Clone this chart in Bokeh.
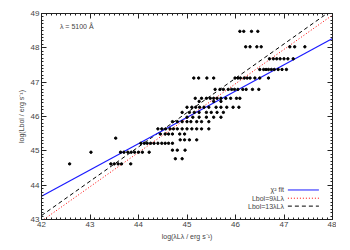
from bokeh.plotting import figure
from bokeh.models import Range1d, LinearAxis, SingleIntervalTicker, Label, CustomJSTickFormatter
from bokeh.embed import file_html
from bokeh.resources import INLINE
import math

# --- data ---
log_lamL = [
    46.09, 46.17, 46.33, 46.46,
    46.21, 46.30, 46.44, 46.53, 47.12, 47.22, 47.43,
    46.70, 46.78, 46.85, 46.92, 47.00, 47.08, 47.19,
    46.50, 46.58, 46.63, 46.68, 46.74, 46.80, 46.88, 46.96, 47.05,
    45.14, 45.24, 45.41, 45.55, 45.99, 46.05, 46.10, 46.18, 46.24, 46.30, 46.40, 46.50, 46.68,
    45.58, 45.68, 45.75, 45.85, 45.92, 45.98, 46.05, 46.15, 46.22, 46.35, 46.48,
    45.17, 45.30, 45.40, 45.48, 45.55, 45.62, 45.70, 45.80, 45.90, 46.02, 46.09,
    45.25, 45.55, 45.70,
    45.00, 45.10, 45.18, 45.26, 45.35, 45.45, 45.60, 45.70, 45.82, 45.95, 46.07,
    44.90, 45.05, 45.15, 45.25, 45.40, 45.50, 45.62, 45.75,
    45.00, 45.12, 45.25, 45.40, 45.55, 45.70,
    44.70, 44.80, 44.90, 45.00, 45.08, 45.20, 45.30, 45.45,
    44.40, 44.48, 44.56, 44.65, 44.72, 44.80, 44.90, 45.00, 45.10, 45.20, 45.30, 45.45,
    44.45, 44.55, 44.62, 44.70, 44.85, 44.95,
    43.53,
    44.86, 44.95, 45.05, 45.20,
    44.05, 44.12, 44.18, 44.25, 44.32, 44.40, 44.48, 44.55, 44.62, 44.70,
    44.70, 44.80, 44.96,
    43.02, 43.63, 43.70, 43.78, 43.85, 43.92, 44.00, 44.08, 44.22,
    44.76, 44.90,
    42.58, 43.43, 43.50, 43.58, 43.65, 43.84,
]
log_Lbol = (
    [48.48] * 4 +
    [48.03] * 7 +
    [47.68] * 7 +
    [47.37] * 9 +
    [47.12] * 13 +
    [46.79] * 11 +
    [46.53] * 11 +
    [46.44] * 3 +
    [46.27] * 11 +
    [46.12] * 8 +
    [45.98] * 6 +
    [45.85] * 8 +
    [45.64] * 12 +
    [45.49] * 6 +
    [45.37] * 1 +
    [45.32] * 4 +
    [45.22] * 10 +
    [45.02] * 3 +
    [44.96] * 9 +
    [44.77] * 2 +
    [44.62] * 6
)

fit_slope = 0.765
fit_at_42 = 43.68
ratio_a = 9.0
ratio_b = 13.0
line_x = [42.0, 48.0]

fit_y = [fit_at_42 + fit_slope * (x - 42.0) for x in line_x]
a_y = [x + math.log10(ratio_a) for x in line_x]
b_y = [x + math.log10(ratio_b) for x in line_x]

FONT = "Liberation Sans"
TXT = "#444444"

p = figure(width=336, height=242, output_backend="svg", toolbar_location=None,
           x_range=Range1d(42, 48), y_range=Range1d(43, 49),
           min_border_left=41, min_border_right=4, min_border_top=13, min_border_bottom=20,
           x_axis_label="log(λLλ / erg s⁻¹)", y_axis_label="log(Lbol / erg s⁻¹)")
p.grid.visible = False
p.outline_line_color = "#222222"
p.background_fill_color = "white"
p.border_fill_color = "white"

def style(ax, labels=True):
    ax.ticker = SingleIntervalTicker(interval=1, num_minor_ticks=10)
    ax.major_tick_in = 5
    ax.major_tick_out = 0
    ax.minor_tick_in = 2
    ax.minor_tick_out = 0
    ax.axis_line_color = "#222222"
    ax.major_tick_line_color = "#222222"
    ax.minor_tick_line_color = "#222222"
    ax.major_label_text_font = FONT
    ax.major_label_text_color = TXT
    ax.axis_label_text_font = FONT
    ax.axis_label_text_color = TXT
    ax.axis_label_text_font_style = "normal"
    ax.axis_label_text_font_size = "7px"
    ax.major_label_text_font_size = "8px"
    ax.major_label_standoff = 2
    ax.axis_label_standoff = 3
    if not labels:
        ax.formatter = CustomJSTickFormatter(code="return ''")
        ax.major_label_standoff = 0

style(p.xaxis[0])
style(p.yaxis[0])
top = LinearAxis()
right = LinearAxis()
style(top, False)
style(right, False)
p.add_layout(top, "above")
p.add_layout(right, "right")

p.line(line_x, a_y, line_color="red", line_width=1, line_dash="1 2")
p.line(line_x, b_y, line_color="black", line_width=1, line_dash="4 3")
p.line(line_x, fit_y, line_color="#1a1aff", line_width=1.2)
p.scatter(log_lamL, log_Lbol, size=2.4, color="black", marker="circle")

p.add_layout(Label(x=42.38, y=48.62, text="λ = 5100 Å", text_font=FONT,
                   text_font_size="7px", text_color=TXT, text_baseline="middle"))

# legend (text on left, sample line on right)
leg_text = ["χ² fit", "Lbol=9λLλ", "Lbol=13λLλ"]
leg_y = [43.86, 43.62, 43.39]
leg_col = ["#1a1aff", "red", "black"]
leg_dash = ["solid", "1 2", "4 3"]
for t, yy, c, d in zip(leg_text, leg_y, leg_col, leg_dash):
    p.add_layout(Label(x=47.0, y=yy, text=t, text_font=FONT, text_font_size="7px",
                       text_color=TXT, text_align="right", text_baseline="middle"))
    p.line([47.08, 47.72], [yy, yy], line_color=c, line_dash=d, line_width=1)

open("out.html", "w").write(file_html(p, INLINE))
